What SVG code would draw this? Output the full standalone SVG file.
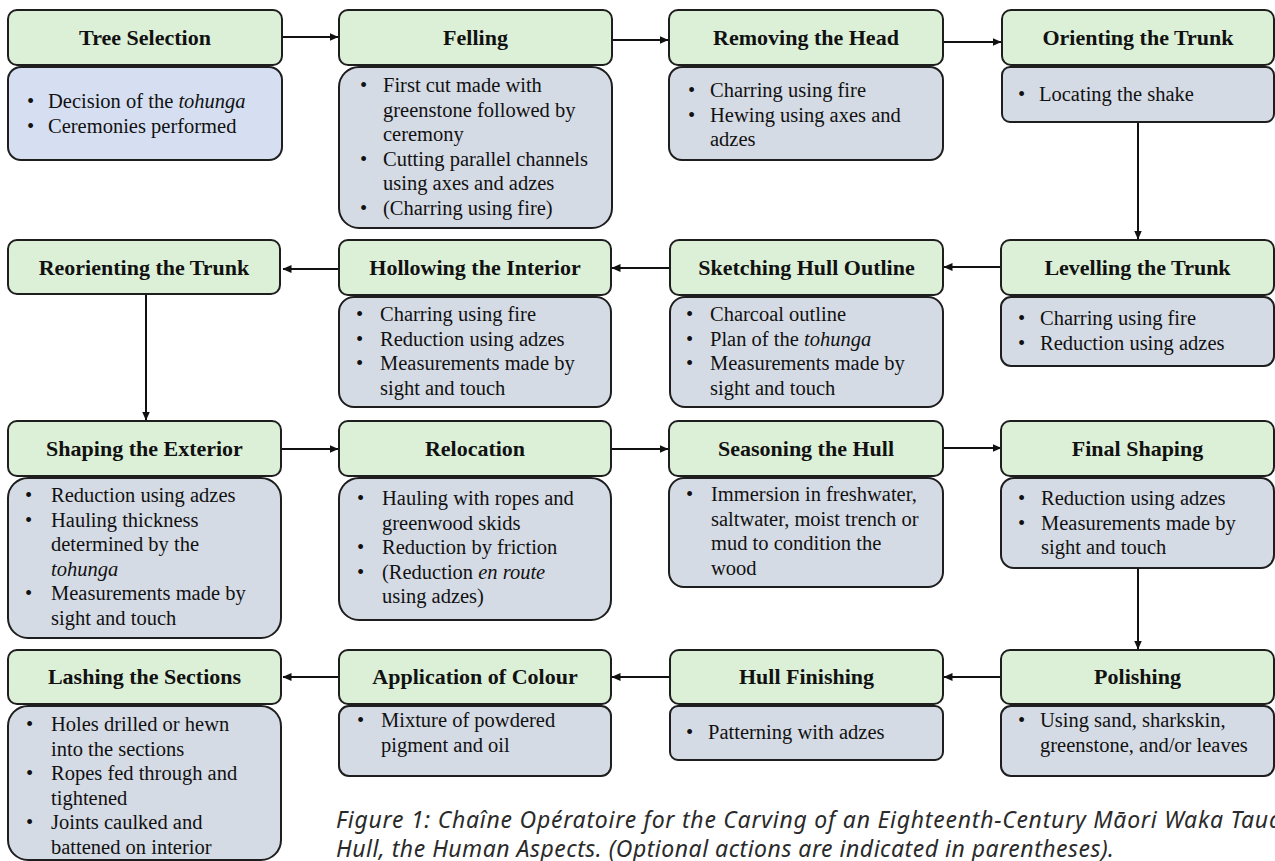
<svg xmlns="http://www.w3.org/2000/svg" width="1275" height="861" viewBox="0 0 1275 861">
<defs>
<marker id="ah" markerUnits="userSpaceOnUse" markerWidth="9" markerHeight="8" refX="8.5" refY="4" orient="auto">
<path d="M0,0 L9,4 L0,8 z" fill="#111"/>
</marker>
<style>
.hdr{fill:#dcf0d8;stroke:#1e1e1e;stroke-width:2}
.det{fill:#d5dbe5;stroke:#1e1e1e;stroke-width:2}
.det2{fill:#d6dff2;stroke:#1e1e1e;stroke-width:2}
.h{font-family:"Liberation Serif","Times New Roman",serif;font-weight:bold;font-size:22px;fill:#111;text-anchor:middle}
.b{font-family:"Liberation Serif","Times New Roman",serif;font-size:20.5px;fill:#111}
.i{font-style:italic}
.c{stroke:#111;stroke-width:2;fill:none;marker-end:url(#ah)}
.cap{font-family:"Noto Sans","Open Sans",sans-serif;font-style:italic;font-size:23px;fill:#2a2a2a}
</style>
</defs>
<rect width="1275" height="861" fill="#fff"/>

<g id="connectors">
<line class="c" x1="282" y1="37" x2="338" y2="37"/>
<line class="c" x1="612" y1="40" x2="668" y2="40"/>
<line class="c" x1="943" y1="42" x2="1001" y2="42"/>
<line class="c" x1="1138" y1="122" x2="1138" y2="239"/>
<line class="c" x1="1001" y1="267" x2="944" y2="267"/>
<line class="c" x1="670" y1="268" x2="612" y2="268"/>
<line class="c" x1="339" y1="269" x2="283" y2="269"/>
<line class="c" x1="146" y1="294" x2="146" y2="420"/>
<line class="c" x1="282" y1="449" x2="338" y2="449"/>
<line class="c" x1="611" y1="449" x2="668" y2="449"/>
<line class="c" x1="943" y1="448" x2="1001" y2="448"/>
<line class="c" x1="1138" y1="568" x2="1138" y2="649"/>
<line class="c" x1="1001" y1="677" x2="944" y2="677"/>
<line class="c" x1="670" y1="677" x2="612" y2="677"/>
<line class="c" x1="339" y1="677" x2="283" y2="677"/>
</g>

<g id="tree-selection">
<rect class="hdr" x="8" y="10" width="274" height="55" rx="9"/>
<text class="h" x="145" y="45">Tree Selection</text>
<rect class="det2" x="8" y="67" width="274" height="93" rx="13"/>
<text class="b" x="27" y="108">•</text><text class="b" x="48" y="108">Decision of the <tspan class="i">tohunga</tspan></text>
<text class="b" x="27" y="133">•</text><text class="b" x="48" y="133">Ceremonies performed</text>
</g>

<g id="felling">
<rect class="hdr" x="339" y="10" width="273" height="55" rx="9"/>
<text class="h" x="475.5" y="45">Felling</text>
<rect class="det" x="339" y="67" width="273" height="161" rx="20"/>
<text class="b" x="360" y="92">•</text><text class="b" x="383" y="92">First cut made with</text>
<text class="b" x="383" y="116.5">greenstone followed by</text>
<text class="b" x="383" y="141">ceremony</text>
<text class="b" x="360" y="165.5">•</text><text class="b" x="383" y="165.5">Cutting parallel channels</text>
<text class="b" x="383" y="190">using axes and adzes</text>
<text class="b" x="360" y="214.5">•</text><text class="b" x="383" y="214.5">(Charring using fire)</text>
</g>

<g id="removing-the-head">
<rect class="hdr" x="669" y="10" width="274" height="55" rx="9"/>
<text class="h" x="806" y="45">Removing the Head</text>
<rect class="det" x="669" y="67" width="274" height="93" rx="13"/>
<text class="b" x="688" y="97">•</text><text class="b" x="710" y="97">Charring using fire</text>
<text class="b" x="688" y="121.5">•</text><text class="b" x="710" y="121.5">Hewing using axes and</text>
<text class="b" x="710" y="146">adzes</text>
</g>

<g id="orienting-the-trunk">
<rect class="hdr" x="1002" y="10" width="272" height="55" rx="9"/>
<text class="h" x="1138" y="45">Orienting the Trunk</text>
<rect class="det" x="1002" y="67" width="272" height="55" rx="8"/>
<text class="b" x="1018" y="101">•</text><text class="b" x="1039" y="101">Locating the shake</text>
</g>

<g id="levelling-the-trunk">
<rect class="hdr" x="1001" y="240" width="273" height="55" rx="9"/>
<text class="h" x="1137.5" y="275">Levelling the Trunk</text>
<rect class="det" x="1001" y="297" width="273" height="69" rx="10"/>
<text class="b" x="1018" y="325">•</text><text class="b" x="1040" y="325">Charring using fire</text>
<text class="b" x="1018" y="349.5">•</text><text class="b" x="1040" y="349.5">Reduction using adzes</text>
</g>

<g id="sketching-hull-outline">
<rect class="hdr" x="670" y="240" width="273" height="55" rx="9"/>
<text class="h" x="806.5" y="275">Sketching Hull Outline</text>
<rect class="det" x="670" y="297" width="273" height="110" rx="15"/>
<text class="b" x="686" y="321">•</text><text class="b" x="710" y="321">Charcoal outline</text>
<text class="b" x="686" y="345.5">•</text><text class="b" x="710" y="345.5">Plan of the <tspan class="i">tohunga</tspan></text>
<text class="b" x="686" y="370">•</text><text class="b" x="710" y="370">Measurements made by</text>
<text class="b" x="710" y="394.5">sight and touch</text>
</g>

<g id="hollowing-the-interior">
<rect class="hdr" x="339" y="240" width="272" height="55" rx="9"/>
<text class="h" x="475" y="275">Hollowing the Interior</text>
<rect class="det" x="339" y="297" width="272" height="110" rx="15"/>
<text class="b" x="356" y="321">•</text><text class="b" x="380" y="321">Charring using fire</text>
<text class="b" x="356" y="345.5">•</text><text class="b" x="380" y="345.5">Reduction using adzes</text>
<text class="b" x="356" y="370">•</text><text class="b" x="380" y="370">Measurements made by</text>
<text class="b" x="380" y="394.5">sight and touch</text>
</g>

<g id="reorienting-the-trunk">
<rect class="hdr" x="8" y="240" width="272" height="54" rx="9"/>
<text class="h" x="144" y="275">Reorienting the Trunk</text>
</g>

<g id="shaping-the-exterior">
<rect class="hdr" x="8" y="421" width="273" height="55" rx="9"/>
<text class="h" x="144.5" y="456">Shaping the Exterior</text>
<rect class="det" x="8" y="478" width="273" height="160" rx="20"/>
<text class="b" x="25" y="502">•</text><text class="b" x="51" y="502">Reduction using adzes</text>
<text class="b" x="25" y="526.5">•</text><text class="b" x="51" y="526.5">Hauling thickness</text>
<text class="b" x="51" y="551">determined by the</text>
<text class="b i" x="51" y="575.5">tohunga</text>
<text class="b" x="25" y="600">•</text><text class="b" x="51" y="600">Measurements made by</text>
<text class="b" x="51" y="624.5">sight and touch</text>
</g>

<g id="relocation">
<rect class="hdr" x="339" y="421" width="272" height="55" rx="9"/>
<text class="h" x="475" y="456">Relocation</text>
<rect class="det" x="339" y="478" width="272" height="142" rx="20"/>
<text class="b" x="357" y="505">•</text><text class="b" x="382" y="505">Hauling with ropes and</text>
<text class="b" x="382" y="529.5">greenwood skids</text>
<text class="b" x="357" y="554">•</text><text class="b" x="382" y="554">Reduction by friction</text>
<text class="b" x="357" y="578.5">•</text><text class="b" x="382" y="578.5">(Reduction <tspan class="i">en route</tspan></text>
<text class="b" x="382" y="603">using adzes)</text>
</g>

<g id="seasoning-the-hull">
<rect class="hdr" x="669" y="421" width="274" height="55" rx="9"/>
<text class="h" x="806" y="456">Seasoning the Hull</text>
<rect class="det" x="669" y="478" width="274" height="109" rx="15"/>
<text class="b" x="686" y="501">•</text><text class="b" x="711" y="501">Immersion in freshwater,</text>
<text class="b" x="711" y="525.5">saltwater, moist trench or</text>
<text class="b" x="711" y="550">mud to condition the</text>
<text class="b" x="711" y="574.5">wood</text>
</g>

<g id="final-shaping">
<rect class="hdr" x="1001" y="421" width="273" height="55" rx="9"/>
<text class="h" x="1137.5" y="456">Final Shaping</text>
<rect class="det" x="1001" y="478" width="273" height="90" rx="13"/>
<text class="b" x="1018" y="505">•</text><text class="b" x="1041" y="505">Reduction using adzes</text>
<text class="b" x="1018" y="529.5">•</text><text class="b" x="1041" y="529.5">Measurements made by</text>
<text class="b" x="1041" y="554">sight and touch</text>
</g>

<g id="polishing">
<rect class="hdr" x="1001" y="650" width="273" height="54" rx="9"/>
<text class="h" x="1137.5" y="684">Polishing</text>
<rect class="det" x="1001" y="706" width="273" height="70" rx="10"/>
<text class="b" x="1018" y="727">•</text><text class="b" x="1040" y="727">Using sand, sharkskin,</text>
<text class="b" x="1040" y="751.5">greenstone, and/or leaves</text>
</g>

<g id="hull-finishing">
<rect class="hdr" x="670" y="650" width="273" height="54" rx="9"/>
<text class="h" x="806.5" y="684">Hull Finishing</text>
<rect class="det" x="670" y="706" width="273" height="54" rx="8"/>
<text class="b" x="686" y="739">•</text><text class="b" x="708" y="739">Patterning with adzes</text>
</g>

<g id="application-of-colour">
<rect class="hdr" x="339" y="650" width="272" height="54" rx="9"/>
<text class="h" x="475" y="684">Application of Colour</text>
<rect class="det" x="339" y="706" width="272" height="70" rx="10"/>
<text class="b" x="357" y="727">•</text><text class="b" x="381" y="727">Mixture of powdered</text>
<text class="b" x="381" y="751.5">pigment and oil</text>
</g>

<g id="lashing-the-sections">
<rect class="hdr" x="8" y="650" width="273" height="54" rx="9"/>
<text class="h" x="144.5" y="684">Lashing the Sections</text>
<rect class="det" x="8" y="706" width="273" height="154" rx="20"/>
<text class="b" x="26" y="731">•</text><text class="b" x="51" y="731">Holes drilled or hewn</text>
<text class="b" x="51" y="755.5">into the sections</text>
<text class="b" x="26" y="780">•</text><text class="b" x="51" y="780">Ropes fed through and</text>
<text class="b" x="51" y="804.5">tightened</text>
<text class="b" x="26" y="829">•</text><text class="b" x="51" y="829">Joints caulked and</text>
<text class="b" x="51" y="853.5">battened on interior</text>
</g>

<g id="caption">
<text class="cap" x="336" y="828" textLength="946">Figure 1: Chaîne Opératoire for the Carving of an Eighteenth-Century Māori Waka Taua</text>
<text class="cap" x="336" y="857" textLength="778">Hull, the Human Aspects. (Optional actions are indicated in parentheses).</text>
</g>
</svg>
